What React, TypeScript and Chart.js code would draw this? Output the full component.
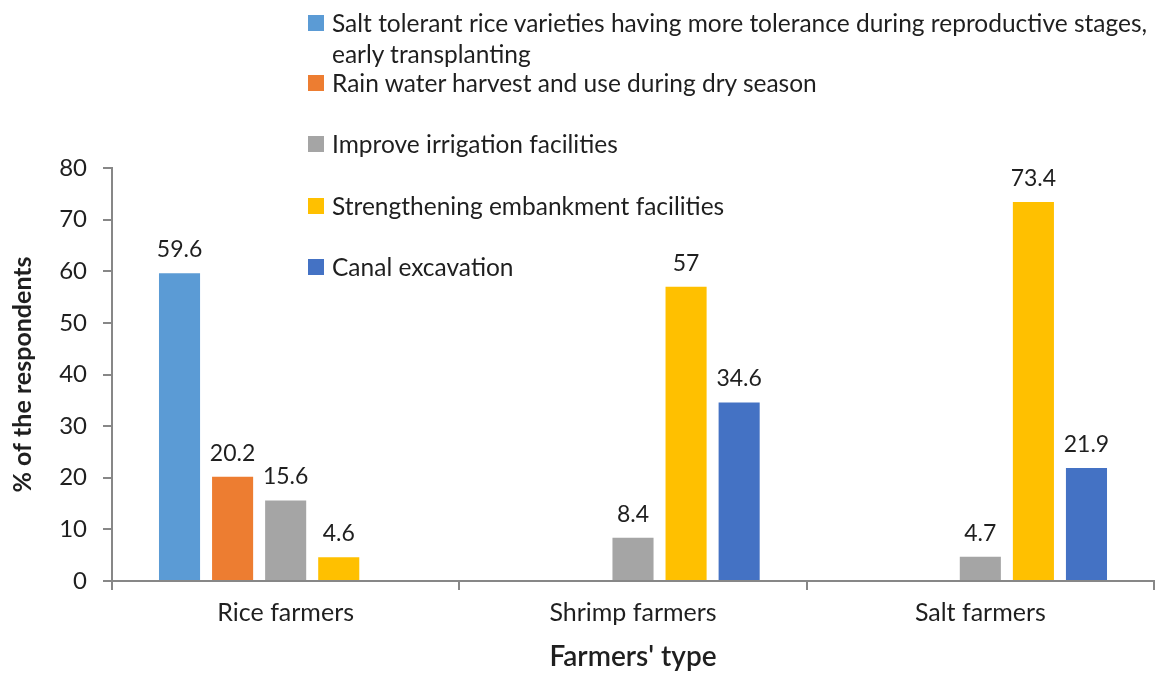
import React, { useEffect, useRef } from "react";
import { Chart, registerables } from "chart.js";

Chart.register(...registerables);

const categories = ["Rice farmers", "Shrimp farmers", "Salt farmers"];
const seriesNames = [
  "Salt tolerant rice varieties having more tolerance during reproductive stages,\nearly transplanting",
  "Rain water harvest and use during dry season",
  "Improve irrigation facilities",
  "Strengthening embankment facilities",
  "Canal excavation",
];
const saltTolerantRice = [59.6, null, null];
const rainWaterHarvest = [20.2, null, null];
const improveIrrigation = [15.6, 8.4, 4.7];
const strengthenEmbankment = [4.6, 57, 73.4];
const canalExcavation = [null, 34.6, 21.9];
const seriesValues = [saltTolerantRice, rainWaterHarvest, improveIrrigation, strengthenEmbankment, canalExcavation];
const seriesColors = ["#5B9BD5", "#ED7D31", "#A5A5A5", "#FFC000", "#4472C4"];
const yTicks = [0, 10, 20, 30, 40, 50, 60, 70, 80];

const FONT = "Lato, 'Open Sans', sans-serif";
const TEXT = "#1f1f1f";
const AXIS = "#878787";

// legend item vertical centres (first line) in px
const legendCenters = [22, 82, 143, 205, 266];

const valueLabels = {
  id: "valueLabels",
  afterDatasetsDraw(chart: any) {
    const ctx = chart.ctx;
    ctx.save();
    ctx.font = `23px ${FONT}`;
    ctx.fillStyle = TEXT;
    ctx.textAlign = "center";
    ctx.textBaseline = "bottom";
    chart.data.datasets.forEach((ds: any, i: number) => {
      const meta = chart.getDatasetMeta(i);
      meta.data.forEach((el: any, j: number) => {
        const v = ds.data[j];
        if (v === null || v === undefined) return;
        ctx.fillText(String(v), el.x, el.y - 12);
      });
    });
    ctx.restore();
  },
};

export default function App() {
  const ref = useRef<HTMLCanvasElement | null>(null);
  useEffect(() => {
    document.body.style.margin = "0";
    const chart = new Chart(ref.current as HTMLCanvasElement, {
      type: "bar",
      data: {
        labels: categories,
        datasets: seriesValues.map((vals, i) => ({
          label: seriesNames[i],
          data: vals as any,
          backgroundColor: seriesColors[i],
          categoryPercentage: 0.764,
          barPercentage: 0.774,
        })),
      },
      options: {
        animation: false,
        responsive: true,
        maintainAspectRatio: false,
        layout: { padding: { left: 0, right: 13, top: 168, bottom: 0 } },
        plugins: { legend: { display: false }, tooltip: { enabled: false } },
        scales: {
          x: {
            afterFit: (s: any) => {
              s.height = 93;
            },
            grid: { offset: true, drawOnChartArea: false, drawTicks: true, tickLength: 9, color: AXIS, lineWidth: 2 },
            border: { color: AXIS, width: 2 },
            ticks: { color: TEXT, font: { family: FONT, size: 25 }, padding: 8 },
            title: {
              display: true,
              text: "Farmers' type",
              color: TEXT,
              font: { family: FONT, size: 28, weight: 600 },
              padding: { top: 0, bottom: 0 },
            },
          },
          y: {
            min: 0,
            max: 80,
            afterFit: (s: any) => {
              s.width = 112;
            },
            afterBuildTicks: (s: any) => {
              s.ticks = yTicks.map((v) => ({ value: v }));
            },
            grid: { drawOnChartArea: false, drawTicks: true, tickLength: 9, color: AXIS, lineWidth: 2 },
            border: { color: AXIS, width: 2 },
            ticks: { color: TEXT, font: { family: FONT, size: 24 }, padding: 16 },
            title: {
              display: true,
              text: "% of the respondents",
              color: TEXT,
              font: { family: FONT, size: 25, weight: 700 },
              padding: { top: 8, bottom: 0 },
            },
          },
        },
      },
      plugins: [valueLabels],
    });
    return () => chart.destroy();
  }, []);

  return (
    <div style={{ position: "absolute", left: 0, top: 0, width: 1167, height: 674, background: "#fff" }}>
      <canvas ref={ref} />
      {seriesNames.map((name, i) => (
        <div
          key={i}
          style={{
            position: "absolute",
            left: 308,
            top: legendCenters[i] - 15.5,
            display: "flex",
            alignItems: "flex-start",
            fontFamily: FONT,
            fontSize: 24.5,
            lineHeight: "31px",
            color: TEXT,
            whiteSpace: "pre",
          }}
        >
          <span
            style={{
              display: "inline-block",
              width: 16,
              height: 16,
              marginTop: 8,
              marginRight: 8,
              background: seriesColors[i],
            }}
          />
          <span>{name}</span>
        </div>
      ))}
    </div>
  );
}
